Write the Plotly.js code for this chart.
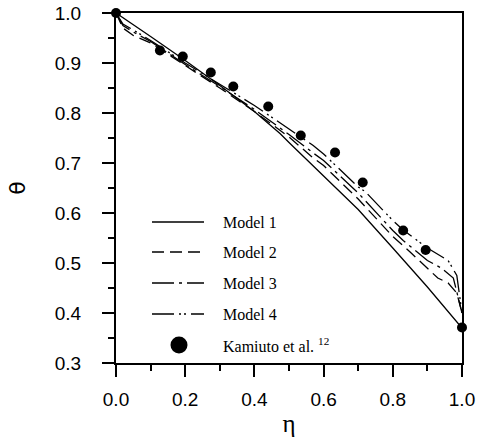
<!DOCTYPE html>
<html>
<head>
<meta charset="utf-8">
<script src="https://cdn.plot.ly/plotly-3.0.1.min.js"></script>
<style>html,body{margin:0;padding:0;background:#fff;}#chart{width:477px;height:445px;}</style>
</head>
<body>
<div id="chart"></div>
<script>
// Model 1 (solid)
var m1Eta   = [0, 0.05, 0.1, 0.2, 0.3, 0.4, 0.474, 0.5, 0.6, 0.7, 0.8, 0.9, 1.0];
var m1Theta = [1.0, 0.977, 0.953, 0.905, 0.855, 0.803, 0.759, 0.741, 0.673, 0.607, 0.53, 0.452, 0.37];
// Model 2 (dashed)
var m2Eta   = [0, 0.02, 0.05, 0.1, 0.2, 0.3, 0.4, 0.5, 0.57, 0.6, 0.7, 0.8, 0.85, 0.9, 0.93, 0.96, 0.985, 1.0];
var m2Theta = [1.0, 0.97, 0.955, 0.94, 0.895, 0.85, 0.803, 0.752, 0.71, 0.695, 0.628, 0.553, 0.522, 0.49, 0.47, 0.46, 0.44, 0.40];
// Model 3 (dash-dot)
var m3Eta   = [0, 0.02, 0.05, 0.1, 0.2, 0.3, 0.4, 0.5, 0.57, 0.6, 0.7, 0.8, 0.83, 0.9, 0.94, 0.975, 1.0];
var m3Theta = [1.0, 0.975, 0.962, 0.943, 0.897, 0.853, 0.807, 0.757, 0.72, 0.705, 0.64, 0.565, 0.545, 0.505, 0.49, 0.47, 0.40];
// Model 4 (dash-dot-dot)
var m4Eta   = [0, 0.02, 0.05, 0.1, 0.2, 0.3, 0.4, 0.5, 0.57, 0.6, 0.7, 0.72, 0.8, 0.83, 0.9, 0.96, 0.985, 1.0];
var m4Theta = [1.0, 0.978, 0.966, 0.945, 0.9, 0.858, 0.815, 0.768, 0.735, 0.718, 0.652, 0.643, 0.585, 0.566, 0.53, 0.505, 0.475, 0.40];
// Kamiuto et al. (symbols)
var kEta   = [0, 0.127, 0.193, 0.274, 0.339, 0.44, 0.534, 0.633, 0.713, 0.83, 0.895, 1.0];
var kTheta = [1.0, 0.925, 0.913, 0.881, 0.853, 0.813, 0.755, 0.721, 0.661, 0.565, 0.526, 0.371];

var legendNames = ['Model 1', 'Model 2', 'Model 3', 'Model 4', 'Kamiuto et al. <sup>12</sup>'];
var dashes = ['solid', '12px,6px', '22px,5px,3px,5px', '22px,5px,2px,3px,2px,5px'];

var line = function(x, y, dash, name) {
  return {x: x, y: y, mode: 'lines', name: name, line: {color: '#000', width: 1.3, dash: dash}, showlegend: false, cliponaxis: false};
};
var traces = [
  line(m1Eta, m1Theta, dashes[0], legendNames[0]),
  line(m2Eta, m2Theta, dashes[1], legendNames[1]),
  line(m3Eta, m3Theta, dashes[2], legendNames[2]),
  line(m4Eta, m4Theta, dashes[3], legendNames[3]),
  {x: kEta, y: kTheta, mode: 'markers', name: legendNames[4], marker: {color: '#000', size: 10}, showlegend: false, cliponaxis: false}
];

// manual legend (pixel helpers relative to plot area)
var L = 116, T = 13, W = 346, H = 350;
function px(x) { return (x - L) / W; }
function py(y) { return (T + H - y) / H; }
var rows = [222, 252, 283, 314, 345];
var shapes = [], annotations = [];
for (var i = 0; i < 4; i++) {
  shapes.push({type: 'line', xref: 'paper', yref: 'paper', x0: px(152), x1: px(204), y0: py(rows[i]), y1: py(rows[i]),
    line: {color: '#000', width: 1.3, dash: dashes[i]}});
}
shapes.push({type: 'circle', xref: 'paper', yref: 'paper', xsizemode: 'pixel', ysizemode: 'pixel',
  xanchor: px(179), yanchor: py(rows[4]), x0: -8.5, x1: 8.5, y0: -8.5, y1: 8.5,
  fillcolor: '#000', line: {color: '#000', width: 0}});
for (var j = 0; j < 5; j++) {
  annotations.push({xref: 'paper', yref: 'paper', x: px(221), y: py(rows[j]), xanchor: 'left', yanchor: 'middle',
    text: legendNames[j], showarrow: false, font: {family: 'Liberation Serif, Times New Roman, serif', size: 16, color: '#000'}});
}

var tickFont = {family: 'Liberation Sans, Arial, sans-serif', size: 19, color: '#000'};
var layout = {
  width: 477, height: 445,
  margin: {l: 116, r: 15, t: 13, b: 82},
  paper_bgcolor: '#fff', plot_bgcolor: '#fff',
  showlegend: false,
  xaxis: {
    range: [0, 1], dtick: 0.2, tick0: 0, tickformat: '.1f',
    ticks: 'outside', ticklen: 12, tickwidth: 2, tickcolor: '#000',
    minor: {dtick: 0.1, ticks: 'outside', ticklen: 6, tickwidth: 2, tickcolor: '#000', showgrid: false},
    showline: true, linewidth: 2, linecolor: '#000', mirror: true,
    showgrid: false, zeroline: false, tickfont: tickFont, ticklabelstandoff: 6,
    title: {text: 'η', font: {family: 'Liberation Serif, serif', size: 25, color: '#000'}, standoff: 6}
  },
  yaxis: {
    range: [0.3, 1.0], dtick: 0.1, tick0: 0, tickformat: '.1f',
    ticks: 'outside', ticklen: 12, tickwidth: 2, tickcolor: '#000',
    minor: {dtick: 0.05, ticks: 'outside', ticklen: 6, tickwidth: 2, tickcolor: '#000', showgrid: false},
    showline: true, linewidth: 2, linecolor: '#000', mirror: true,
    showgrid: false, zeroline: false, tickfont: tickFont, ticklabelstandoff: 17,
    title: {text: 'θ', font: {family: 'DejaVu Sans, sans-serif', size: 22, color: '#000'}, standoff: 23}
  },
  shapes: shapes,
  annotations: annotations
};
Plotly.newPlot('chart', traces, layout, {displayModeBar: false, staticPlot: true});
</script>
</body>
</html>
